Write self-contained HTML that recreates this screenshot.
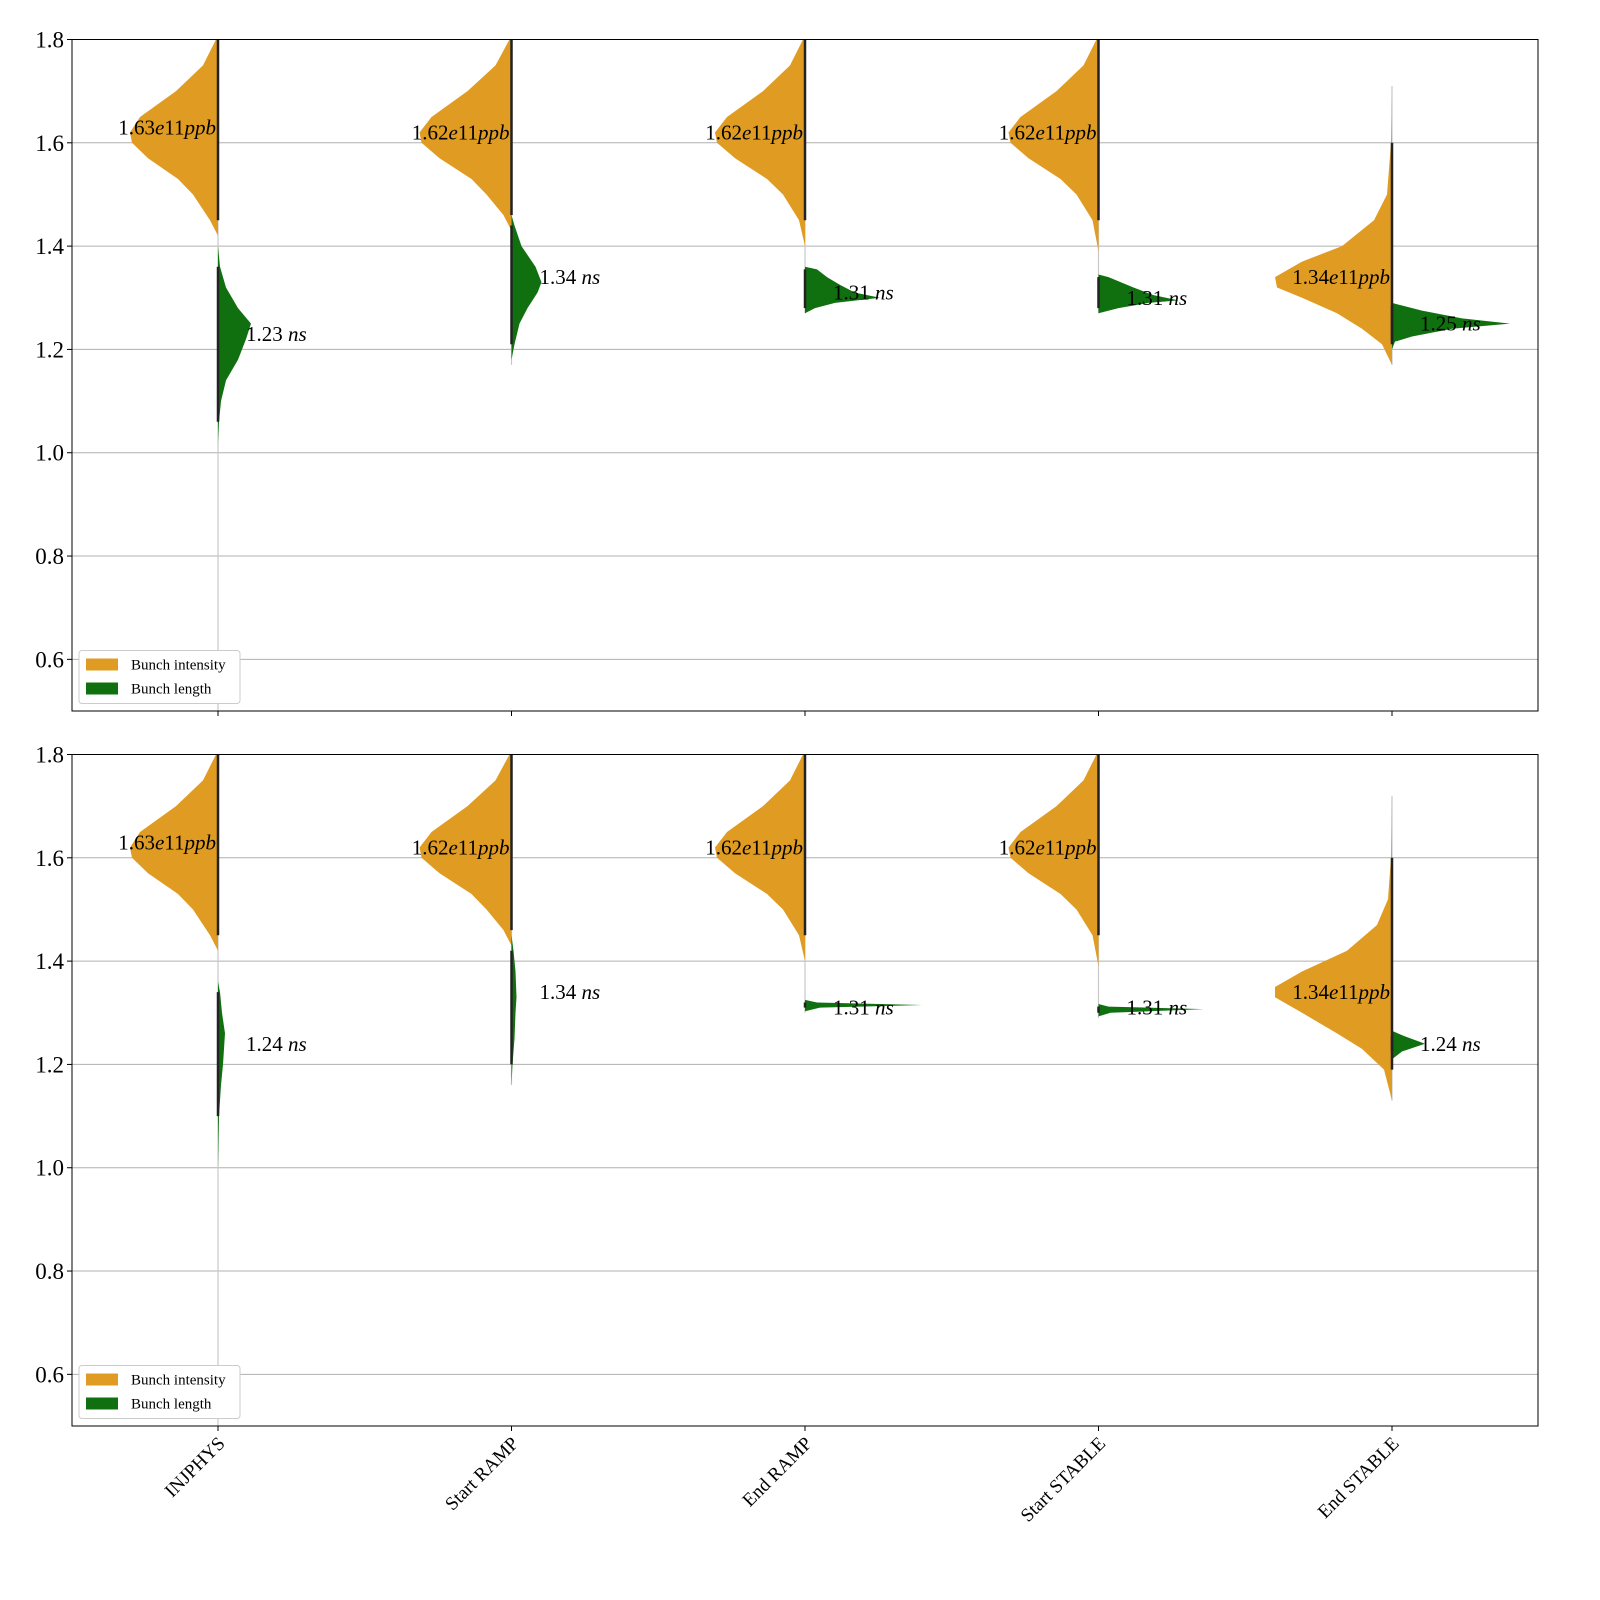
<!DOCTYPE html>
<html><head><meta charset="utf-8"><style>
html,body{margin:0;padding:0;background:#fff;width:1600px;height:1600px;overflow:hidden;}
svg{display:block;font-family:"Liberation Serif",serif;}
</style></head><body>
<svg id="chart" width="1600" height="1600" viewBox="0 0 1600 1600" xmlns="http://www.w3.org/2000/svg">
<defs>
<clipPath id="clipTop"><rect x="72" y="39.5" width="1466" height="671.5"/></clipPath>
<clipPath id="clipBot"><rect x="72" y="754.5" width="1466" height="671.5"/></clipPath>
</defs>
</svg>
<script>
const categories = ["INJPHYS","Start RAMP","End RAMP","Start STABLE","End STABLE"];
const yTicks = [0.6,0.8,1.0,1.2,1.4,1.6,1.8];
// profiles: [value, density] ; density in px-units of half-width
const topIntensity = [
 [[1.42,0],[1.45,8],[1.5,25],[1.53,40],[1.57,70],[1.6,86],[1.62,88],[1.65,78],[1.7,42],[1.75,15],[1.8,2],[1.85,0]],
 [[1.43,0],[1.46,8],[1.5,25],[1.53,40],[1.57,72],[1.6,90],[1.62,92],[1.65,80],[1.7,44],[1.75,16],[1.8,2],[1.85,0]],
 [[1.40,0],[1.45,6],[1.5,22],[1.53,38],[1.57,70],[1.6,88],[1.62,90],[1.65,78],[1.7,42],[1.75,15],[1.8,2],[1.85,0]],
 [[1.39,0],[1.45,6],[1.5,22],[1.53,38],[1.57,70],[1.6,88],[1.62,90],[1.65,78],[1.7,42],[1.75,15],[1.8,2],[1.85,0]],
 [[1.17,0],[1.21,10],[1.24,30],[1.27,55],[1.3,90],[1.32,115],[1.34,117],[1.37,90],[1.4,50],[1.45,18],[1.5,5],[1.6,1],[1.7,0]]
];
const topLength = [
 [[1.02,0],[1.06,1],[1.1,3],[1.14,8],[1.18,20],[1.22,28],[1.25,33],[1.28,20],[1.32,8],[1.36,2],[1.40,0]],
 [[1.18,0],[1.21,3],[1.25,8],[1.28,16],[1.31,26],[1.33,30],[1.36,24],[1.4,10],[1.44,3],[1.46,0]],
 [[1.27,0],[1.28,10],[1.29,30],[1.30,75],[1.31,50],[1.325,35],[1.34,22],[1.355,12],[1.36,0]],
 [[1.27,0],[1.28,20],[1.29,50],[1.295,80],[1.305,55],[1.32,35],[1.34,10],[1.345,0]],
 [[1.20,0],[1.215,3],[1.225,20],[1.24,60],[1.25,118],[1.26,70],[1.275,30],[1.285,10],[1.29,0]]
];
const botIntensity = topIntensity.map(p=>p);
botIntensity[4] = [[1.13,0],[1.19,8],[1.23,30],[1.26,55],[1.3,90],[1.33,117],[1.35,117],[1.38,90],[1.42,45],[1.47,15],[1.52,4],[1.6,1],[1.72,0]];
const botLength = [
 [[1.0,0],[1.1,1],[1.16,3],[1.2,5],[1.26,7],[1.3,4],[1.34,2],[1.36,0]],
 [[1.16,0],[1.2,1],[1.25,3],[1.3,4],[1.33,5],[1.38,4],[1.42,2],[1.45,0]],
 [[1.303,0],[1.31,15],[1.315,117],[1.32,12],[1.325,0]],
 [[1.293,0],[1.3,12],[1.307,105],[1.312,10],[1.317,0]],
 [[1.21,0],[1.225,10],[1.24,33],[1.255,12],[1.265,0]]
];
const topIntLabels = ["1.63","1.62","1.62","1.62","1.34"];
const topIntMed = [1.63,1.62,1.62,1.62,1.34];
const topLenLabels = ["1.23","1.34","1.31","1.31","1.25"];
const topLenMed = [1.23,1.34,1.31,1.30,1.25];
const botIntLabels = ["1.63","1.62","1.62","1.62","1.34"];
const botIntMed = [1.63,1.62,1.62,1.62,1.34];
const botLenLabels = ["1.24","1.34","1.31","1.31","1.24"];
const botLenMed = [1.24,1.34,1.31,1.31,1.24];
const topRange = [[0.5,1.8],[1.17,1.8],[1.27,1.8],[1.27,1.8],[1.17,1.71]];
const botRange = [[0.5,1.8],[1.16,1.8],[1.30,1.8],[1.29,1.8],[1.13,1.72]];

const NS="http://www.w3.org/2000/svg";
const svg=document.getElementById('chart');
function el(tag,attrs,parent){const e=document.createElementNS(NS,tag);for(const k in attrs)e.setAttribute(k,attrs[k]);(parent||svg).appendChild(e);return e;}
const X0=72,X1=1538;
function xScale(i){return 218+i*293.5;}
function makeY(top){const y18=top,y05=top+671.5;return v=>y05-(v-0.5)/1.3*(y05-y18);}

function panel(name,top,intens,lens,intLab,intMed,lenLab,lenMed,ranges,clip,showX){
 const y=makeY(top);
 const g=el('g',{});
 
 
 yTicks.forEach(t=>{
  const gl=el('line',{x1:X0,x2:X1,y1:y(t),y2:y(t),stroke:'#b0b0b0','stroke-width':1},g);
  
  
  el('line',{x1:X0-5,x2:X0,y1:y(t),y2:y(t),stroke:'#000','stroke-width':1},g);
  const tl=el('text',{x:X0-8,y:y(t)+8,'text-anchor':'end','font-size':23},g);
  tl.textContent=t.toFixed(1);
  
  
 });
 const cg=el('g',{'clip-path':'url(#'+clip+')'},g);
 categories.forEach((c,i)=>{
  const cx=xScale(i);
  const rl=el('line',{x1:cx,x2:cx,y1:y(ranges[i][0]),y2:y(ranges[i][1]),stroke:'#c8c8c8','stroke-width':1.2},cg);
  
  
  const pi=intens[i];
  let d='M'+cx+','+y(pi[0][0]);
  pi.forEach(p=>d+=' L'+(cx-p[1])+','+y(p[0]));
  d+=' L'+cx+','+y(pi[pi.length-1][0])+'Z';
  const vi=el('path',{d:d,fill:'#e09c22'},cg);
  
  
  const pl=lens[i];
  d='M'+cx+','+y(pl[0][0]);
  pl.forEach(p=>d+=' L'+(cx+p[1])+','+y(p[0]));
  d+=' L'+cx+','+y(pl[pl.length-1][0])+'Z';
  const vl=el('path',{d:d,fill:'#107010'},cg);
  
  
  const iLo=pi[1][0],iHi=Math.min(1.8,pi[pi.length-2][0]);
  const lLo=pl[1][0],lHi=pl[pl.length-2][0];
  el('line',{x1:cx,x2:cx,y1:y(iLo),y2:y(iHi),stroke:'#222','stroke-width':2.5},cg);
  el('line',{x1:cx,x2:cx,y1:y(lLo),y2:y(lHi),stroke:'#222','stroke-width':2.5},cg);
  const t1=el('text',{x:cx-2,y:y(intMed[i])+7,'text-anchor':'end','font-size':21},g);
  t1.innerHTML=intLab[i]+'<tspan font-style="italic">e</tspan>11<tspan font-style="italic">ppb</tspan>';
  
  
  const t2=el('text',{x:cx+28,y:y(lenMed[i])+7,'font-size':21},g);
  t2.innerHTML=lenLab[i]+' <tspan font-style="italic">ns</tspan>';
  
  
  el('line',{x1:cx,x2:cx,y1:top+671.5,y2:top+676.5,stroke:'#000','stroke-width':1},g);
  if(showX){
   const xl=el('text',{x:0,y:0,'text-anchor':'end','font-size':19,transform:'translate('+(cx+8)+','+(top+690)+') rotate(-45)'},g);
   xl.textContent=c;
   
   
  }
 });
 const fr=el('rect',{x:X0,y:top,width:X1-X0,height:671.5,fill:'none',stroke:'#000','stroke-width':1},g);
 
 
 const lg=el('g',{},g);
 
 
 const ly=top+611;
 el('rect',{x:79,y:ly,width:161,height:53,rx:3,fill:'#fff',stroke:'#ccc'},lg);
 el('rect',{x:86,y:ly+8,width:32,height:12,fill:'#e09c22'},lg);
 el('rect',{x:86,y:ly+32,width:32,height:12,fill:'#107010'},lg);
 const e1=el('text',{x:131,y:ly+19,'font-size':15},lg);e1.textContent='Bunch intensity';
 
 
 const e2=el('text',{x:131,y:ly+43,'font-size':15},lg);e2.textContent='Bunch length';
 
 
}
panel('top-panel',39.5,topIntensity,topLength,topIntLabels,topIntMed,topLenLabels,topLenMed,topRange,'clipTop',false);
panel('bottom-panel',754.5,botIntensity,botLength,botIntLabels,botIntMed,botLenLabels,botLenMed,botRange,'clipBot',true);
</script>
</body></html>
